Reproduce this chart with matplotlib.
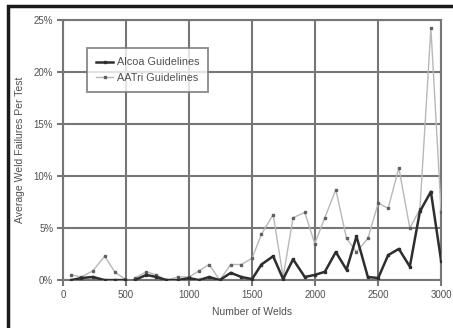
import numpy as np
import matplotlib
matplotlib.use('Agg')
import matplotlib.pyplot as plt
from matplotlib.patches import Rectangle
from matplotlib.ticker import FuncFormatter

plt.rcParams['font.family'] = ['Liberation Sans', 'DejaVu Sans']

# cumulative weld count at each test (NaN marks the break after ~500 welds)
welds = [66, 145, 238, 331, 410, 489, 530, 569, 661, 741, 820, 913, 1000, 1079,
         1159, 1243, 1331, 1415, 1500, 1574, 1667, 1746, 1825, 1918, 1997,
         2077, 2164, 2249, 2328, 2418, 2500, 2579, 2664, 2751, 2831, 2918, 3000]

# average weld failures per test, in percent
alcoa = [0.0, 0.2, 0.3, 0.0, 0.0, 0.0, np.nan, 0.0, 0.5, 0.3, 0.0, 0.0, 0.2, 0.0,
         0.3, 0.0, 0.7, 0.3, 0.1, 1.5, 2.3, 0.1, 2.0, 0.3, 0.5,
         0.8, 2.7, 1.0, 4.2, 0.3, 0.2, 2.4, 3.0, 1.3, 6.6, 8.5, 1.8]
aatt = [0.5, 0.3, 0.9, 2.3, 0.8, 0.1, np.nan, 0.2, 0.8, 0.5, 0.0, 0.3, 0.3, 0.9,
        1.5, 0.0, 1.5, 1.5, 2.1, 4.4, 6.3, 0.3, 6.0, 6.5, 3.5,
        6.0, 8.7, 4.0, 2.7, 4.0, 7.4, 6.9, 10.8, 5.0, 6.8, 24.2, 6.5]

legend_labels = ['Alcoa Guidelines', "AATri Guidelines"]

fig = plt.figure(figsize=(4.53, 3.28), dpi=100)
ax = fig.add_axes([0.139, 0.146, 0.835, 0.793])

grid_col = '#767676'
text_col = '#505050'

ax.plot(welds, aatt, color='#b8b8b8', linewidth=1.0, marker='s', markersize=1.8,
        markerfacecolor='#606060', markeredgecolor='#606060', label=legend_labels[1], zorder=3)
ax.plot(welds, alcoa, color='#2e2e2e', linewidth=1.8, marker='s', markersize=1.8,
        markerfacecolor='#2e2e2e', markeredgecolor='#2e2e2e', label=legend_labels[0], zorder=4)

ax.set_xlim(0, 3000)
ax.set_ylim(0, 25)
ax.set_xticks(range(0, 3001, 500))
ax.set_yticks(range(0, 26, 5))
ax.yaxis.set_major_formatter(FuncFormatter(lambda v, p: f'{int(v)}%'))

ax.grid(True, color=grid_col, linewidth=1.5)
ax.set_axisbelow(True)
for s in ax.spines.values():
    s.set_color(grid_col)
    s.set_linewidth(1.5)
ax.tick_params(axis='both', colors=grid_col, length=4, width=1.5, labelsize=7,
               labelcolor=text_col, pad=3)

ax.set_xlabel('Number of Welds', fontsize=7.5, color=text_col, labelpad=5)
ax.set_ylabel('Average Weld Failures Per Test', fontsize=7.5, color=text_col, labelpad=6)

h, l = ax.get_legend_handles_labels()
leg = ax.legend(h[::-1], l[::-1], loc='upper left', bbox_to_anchor=(0.063, 0.892),
                borderaxespad=0, fontsize=7.8, frameon=True, fancybox=False,
                handlelength=1.6, handletextpad=0.3, borderpad=0.85, labelspacing=0.55,
                labelcolor=text_col)
leg.get_frame().set_edgecolor(grid_col)
leg.get_frame().set_linewidth(1.4)

# heavy frame around the figure
fig.patches.append(Rectangle((8 / 453, -0.05), 1.1, 1 - 6 / 328 + 0.05,
                             transform=fig.transFigure, fill=False,
                             edgecolor='#1a1a1a', linewidth=2.5))

fig.savefig('out.png', dpi=100)
